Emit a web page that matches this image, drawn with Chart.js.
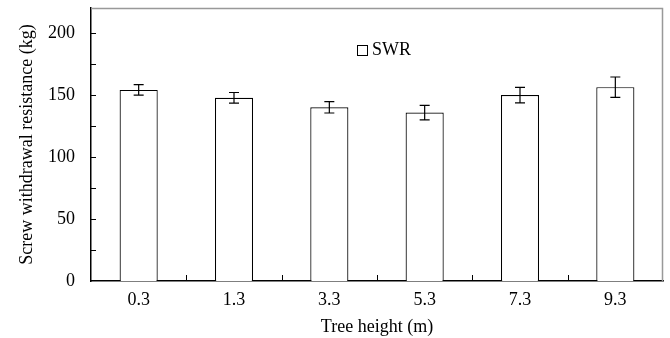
<!DOCTYPE html>
<html>
<head>
<meta charset="utf-8">
<script src="https://cdn.jsdelivr.net/npm/chart.js@4/dist/chart.umd.min.js"></script>
<style>
    html, body { margin: 0; padding: 0; background: #fff; }
    #wrap { width: 670px; height: 338px; }
</style>
</head>
<body>
<div id="wrap"><canvas id="swrChart"></canvas></div>
<script>
const heights = ["0.3", "1.3", "3.3", "5.3", "7.3", "9.3"];
const swrValues = [154, 147.6, 140, 135.7, 149.8, 156.2];
const swrErrors = [4.2, 4.3, 4.6, 5.8, 6.2, 8.2];
const yTicks = [0, 50, 100, 150, 200];

const FONT = "'Liberation Serif', 'Times New Roman', serif";

// error bars, inward ticks, frame and legend
const extras = {
    id: "extras",
    afterDraw(chart) {
        const c = chart.ctx;
        const x = chart.scales.x;
        const y = chart.scales.y;
        const area = chart.chartArea;

        c.save();
        c.strokeStyle = "#000";
        c.lineWidth = 1.2;
        swrValues.forEach((v, i) => {
            const px = x.getPixelForValue(i);
            const top = y.getPixelForValue(v + swrErrors[i]);
            const bot = y.getPixelForValue(v - swrErrors[i]);
            c.beginPath();
            c.moveTo(px, top); c.lineTo(px, bot);
            c.moveTo(px - 5, top); c.lineTo(px + 5, top);
            c.moveTo(px - 5, bot); c.lineTo(px + 5, bot);
            c.stroke();
        });

        // top / right frame
        const t = Math.round(area.top) + 0.5;
        const r = Math.round(area.right) - 0.5;
        c.strokeStyle = "#999";
        c.lineWidth = 1.5;
        c.beginPath();
        c.moveTo(area.left, t);
        c.lineTo(r, t);
        c.lineTo(r, area.bottom);
        c.stroke();

        // inward ticks
        c.strokeStyle = "#000";
        c.lineWidth = 1;
        c.beginPath();
        for (let v = 25; v <= 200; v += 25) {
            const py = Math.round(y.getPixelForValue(v)) + 0.5;
            c.moveTo(area.left, py); c.lineTo(area.left + 5, py);
        }
        for (let i = 1; i < heights.length; i++) {
            const px = Math.round((x.getPixelForValue(i - 1) + x.getPixelForValue(i)) / 2) + 0.5;
            c.moveTo(px, area.bottom); c.lineTo(px, area.bottom - 6);
        }
        c.stroke();

        // legend
        c.strokeRect(357.5, 45.5, 10, 10);
        c.fillStyle = "#000";
        c.font = "18px " + FONT;
        c.textBaseline = "middle";
        c.fillText("SWR", 372, 50);
        c.restore();
    }
};

new Chart(document.getElementById("swrChart"), {
    type: "bar",
    data: {
        labels: heights,
        datasets: [{
            label: "SWR",
            data: swrValues,
            backgroundColor: "#fff",
            borderColor: "#000",
            borderWidth: 1.2,
            barPercentage: 0.4,
            categoryPercentage: 1
        }]
    },
    options: {
        responsive: true,
        maintainAspectRatio: false,
        animation: false,
        layout: { padding: { top: 8, right: 7, left: 0, bottom: 0 } },
        plugins: {
            legend: { display: false },
            tooltip: { enabled: false }
        },
        scales: {
            x: {
                offset: true,
                grid: { display: false },
                border: { display: true, color: "#000", width: 1.5 },
                ticks: { color: "#000", font: { family: FONT, size: 18 }, padding: 0, maxRotation: 0 },
                title: {
                    display: true,
                    text: "Tree height (m)",
                    color: "#000",
                    font: { family: FONT, size: 18 },
                    padding: { top: 2, bottom: 0 }
                },
                afterFit: s => { s.height = 57; }
            },
            y: {
                min: 0,
                max: 220,
                afterBuildTicks: s => { s.ticks = yTicks.map(v => ({ value: v })); },
                grid: { display: false },
                border: { display: true, color: "#000", width: 1.5 },
                ticks: { color: "#000", font: { family: FONT, size: 18 }, padding: 8 },
                title: {
                    display: true,
                    text: "Screw withdrawal resistance (kg)",
                    color: "#000",
                    font: { family: FONT, size: 18 },
                    padding: { top: 16, bottom: 0 }
                },
                afterFit: s => {
                    s.width = 91;
                    s.paddingTop = 0;
                    s.paddingBottom = 0;
                }
            }
        }
    },
    plugins: [extras]
});
</script>
</body>
</html>
